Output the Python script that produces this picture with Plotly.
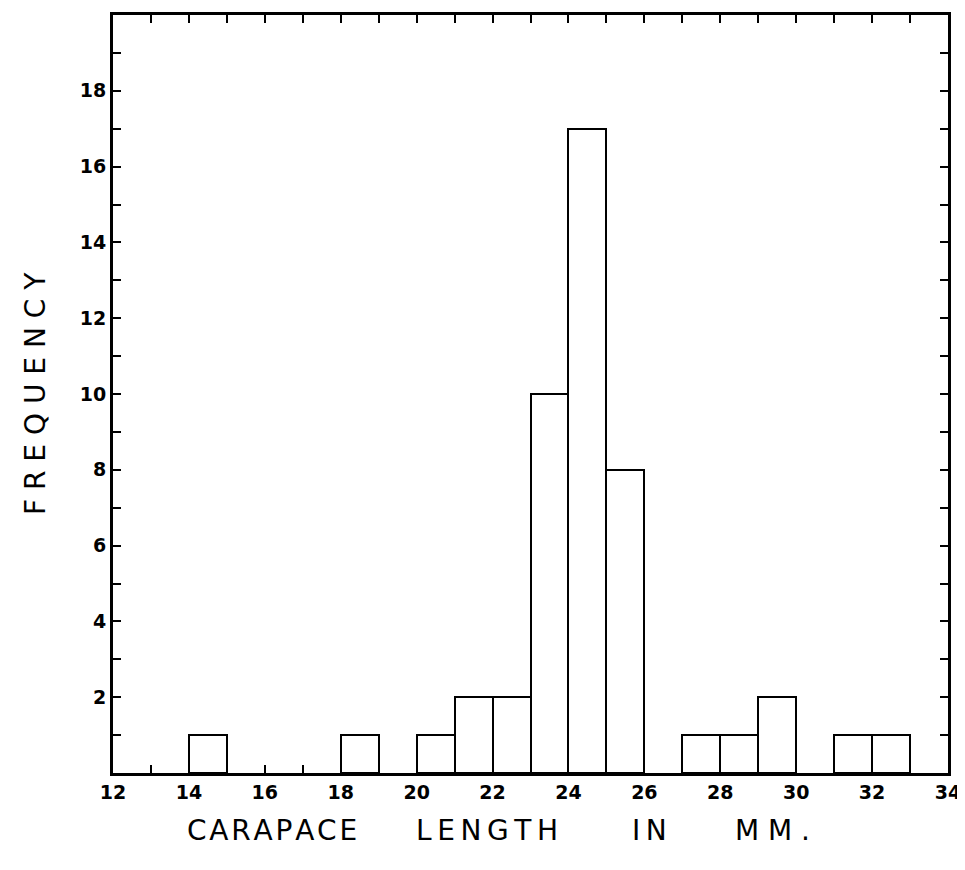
import plotly.graph_objects as go

bin_starts = [14, 18, 20, 21, 22, 23, 24, 25, 27, 28, 29, 31, 32]
frequency = [1, 1, 1, 2, 2, 10, 17, 8, 1, 1, 2, 1, 1]

x_ticks = list(range(12, 35))
x_labels = [str(v) if v % 2 == 0 else "" for v in x_ticks]
y_ticks = list(range(0, 21))
y_labels = [str(v) if (v % 2 == 0 and 0 < v < 20) else "" for v in y_ticks]

title_words = ["CARAPACE", "LENGTH", "IN", "MM."]
title_word_x = [0.190, 0.448, 0.643, 0.790]
title_word_sep = ["\u200a", "\u2009", "\u2009", "\u00a0"]

NB = "\u00a0"

fig = go.Figure()
fig.add_trace(go.Bar(
    x=bin_starts, y=frequency, width=1, offset=0,
    marker=dict(color="white", line=dict(color="black", width=2)),
    showlegend=False,
))

font = "DejaVu Sans, Liberation Sans, sans-serif"
axis_common = dict(
    showline=True, linecolor="black", linewidth=3, mirror="ticks",
    ticks="inside", ticklen=8, tickwidth=2, tickcolor="black",
    showgrid=False, zeroline=False,
    tickfont=dict(family=font, size=19, color="black", weight="bold"),
)

annotations = []
for w, xp, sep in zip(title_words, title_word_x, title_word_sep):
    annotations.append(dict(text=sep.join(list(w)), xref="paper", yref="paper", x=xp, y=0,
                            xanchor="center", yanchor="middle", yshift=-57, showarrow=False,
                            font=dict(family=font, size=28, color="black")))
annotations.append(dict(text=NB.join(list("FREQUENCY")), xref="paper", yref="paper", x=0, y=0.5,
                        xanchor="center", yanchor="middle", xshift=-78, textangle=-90,
                        showarrow=False, font=dict(family=font, size=28, color="black")))

fig.update_layout(
    width=957, height=862,
    margin=dict(l=105, r=17, t=4, b=97),
    plot_bgcolor="white", paper_bgcolor="white",
    bargap=0,
    xaxis=dict(range=[12, 34], tickmode="array", tickvals=x_ticks, ticktext=x_labels, **axis_common),
    yaxis=dict(range=[0, 20], tickmode="array", tickvals=y_ticks, ticktext=y_labels, **axis_common),
    annotations=annotations,
)

fig.write_html("out.html")
